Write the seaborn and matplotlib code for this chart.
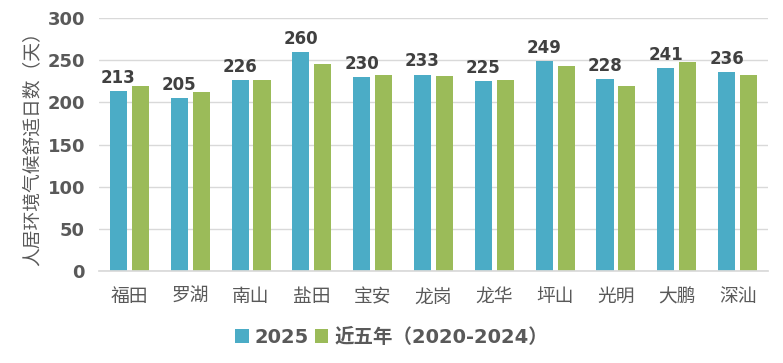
import matplotlib
matplotlib.use("Agg")
import matplotlib.pyplot as plt
import seaborn as sns
import pandas as pd

districts = ["福田", "罗湖", "南山", "盐田", "宝安", "龙岗", "龙华", "坪山", "光明", "大鹏", "深汕"]
values_2025 = [213, 205, 226, 260, 230, 233, 225, 249, 228, 241, 236]
values_5yr = [219, 212, 227, 246, 233, 231, 226, 243, 219, 248, 232]
series_names = ["2025", "近五年（2020-2024）"]
y_ticks = [0, 50, 100, 150, 200, 250, 300]

sns.set_theme(style="white")
plt.rcParams['font.family'] = ['Noto Sans CJK SC', 'DejaVu Sans']

df = pd.DataFrame({
    "district": districts * 2,
    "value": values_2025 + values_5yr,
    "series": [series_names[0]] * len(districts) + [series_names[1]] * len(districts),
})

fig = plt.figure(figsize=(7.83, 3.63), dpi=100)
ax = fig.add_axes([99/783, 1 - 271/363, (768-99)/783, (271-18)/363])

palette = {series_names[0]: "#4BACC6", series_names[1]: "#9BBB59"}
sns.barplot(data=df, x="district", y="value", hue="series", palette=palette,
            width=0.72, gap=0.22, ax=ax, saturation=1, legend=True, linewidth=0)

ax.set_ylim(0, 300)
ax.set_xlim(-0.5, len(districts) - 0.5)
ax.set_yticks(y_ticks)
ax.yaxis.grid(True, color="#D9D9D9", linewidth=1)
ax.set_axisbelow(True)
for s in ["top", "right", "left"]:
    ax.spines[s].set_visible(False)
ax.spines["bottom"].set_color("#D9D9D9")
ax.tick_params(axis="both", length=0)
ax.tick_params(axis="y", pad=10)
ax.tick_params(axis="x", pad=11)
for lbl in ax.get_yticklabels():
    lbl.set_fontweight("bold")
    lbl.set_fontsize(13)
    lbl.set_color("#595959")
    lbl.set_family(['DejaVu Sans'])
for lbl in ax.get_xticklabels():
    lbl.set_fontsize(13.5)
    lbl.set_fontweight(500)
    lbl.set_color("#595959")
ax.set_xlabel("")
ax.set_ylabel("人居环境气候舒适日数（天）", fontsize=13.5, color="#595959", labelpad=4)

# annotate 2025 bars
cont = ax.containers[0]
ax.bar_label(cont, labels=[str(v) for v in values_2025], padding=3,
             fontsize=12, fontweight="bold", color="#404040", family=['DejaVu Sans'])

handles, labels = ax.get_legend_handles_labels()
ax.get_legend().remove()
leg = fig.legend(handles, labels, loc="center", bbox_to_anchor=(0.5, 1 - 337/363), ncol=2, frameon=False,
                 handlelength=0.7, handleheight=0.7, handletextpad=0.3, columnspacing=0.3,
                 prop={"family": ['DejaVu Sans', 'Noto Sans CJK SC'], "weight": "bold", "size": 14})
for t in leg.get_texts():
    t.set_color("#595959")

fig.savefig("out.png", dpi=100)
